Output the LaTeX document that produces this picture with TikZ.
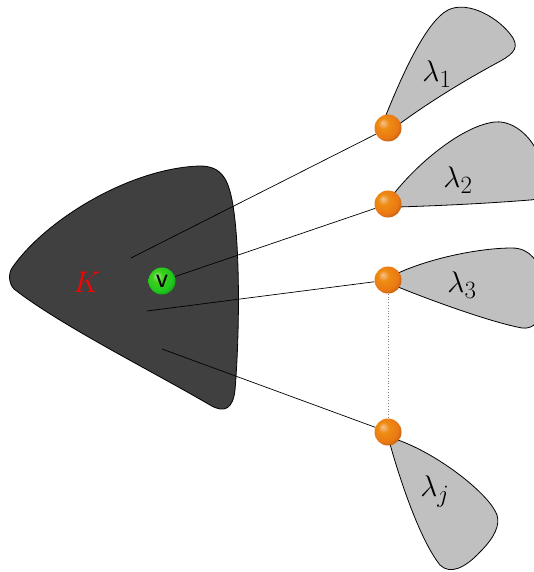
\documentclass[tikz,border=0pt]{standalone}
\definecolor{kdark}{HTML}{404040}
\definecolor{petal}{HTML}{C0C0C0}
\definecolor{borange}{RGB}{235,120,20}
\definecolor{bgreen}{RGB}{30,200,30}
\pgfdeclareradialshading{oballsh}{\pgfpoint{-10bp}{10bp}}{color(0bp)=(white!55!borange); color(10bp)=(borange!85!yellow); color(24bp)=(borange); color(34bp)=(borange!70!black); color(50bp)=(borange!50!black)}
\pgfdeclareradialshading{gballsh}{\pgfpoint{-10bp}{10bp}}{color(0bp)=(white!55!bgreen); color(10bp)=(bgreen!85!yellow); color(24bp)=(bgreen); color(34bp)=(bgreen!70!black); color(50bp)=(bgreen!50!black)}
\pgfdeclarelayer{background}
\pgfsetlayers{background,main}
\tikzset{
  oball/.style={circle,minimum size=27pt,inner sep=0pt,shading=oballsh},
  gball/.style={circle,minimum size=27pt,inner sep=0pt,shading=gballsh},
  petalshape/.style={draw=black,fill=petal,line width=0.8pt},
  conn/.style={draw=black,line width=0.7pt},
  lab/.style={font=\Huge}
}
\newcommand{\biglab}[1]{\scalebox{1.2}{#1}}
\begin{document}
\begin{tikzpicture}[x=1pt,y=-1pt]
\useasboundingbox (0,0) rectangle (533,572);
% balls and markers
\node[oball] (b1) at (388,128) {};
\node[oball] (b2) at (388,204) {};
\node[oball] (b3) at (388,280) {};
\node[oball] (b4) at (388,432) {};
\node[gball,font=\Huge] (g) at (162,281) {\scalebox{1.15}{\sffamily v}};
\coordinate (s1) at (131,258);
\coordinate (s3) at (147,311);
\coordinate (s4) at (162,349);
\begin{pgfonlayer}{background}
% K body
\fill[kdark,draw=black,line width=0.8pt] (12,268) .. controls (45,220) and (130,168) .. (200,166)
  .. controls (222,166) and (228,180) .. (232,200)
  .. controls (240,240) and (240,330) .. (235,390)
  .. controls (233,408) and (225,414) .. (210,405)
  .. controls (150,370) and (60,325) .. (14,289)
  .. controls (9,284) and (8,274) .. (12,268) -- cycle;
% petals
\path[petalshape] (384,120) .. controls (400,80) and (425,22) .. (448,10)
  .. controls (468,0) and (500,18) .. (513,38)
  .. controls (520,50) and (510,56) .. (495,64)
  .. controls (460,83) and (425,105) .. (398,125) -- cycle;
\path[petalshape] (392,196) .. controls (420,160) and (465,125) .. (495,122)
  .. controls (515,120) and (535,140) .. (540,160)
  .. controls (550,180) and (545,200) .. (530,200)
  .. controls (480,204) and (430,206) .. (398,207) -- cycle;
\path[petalshape] (396,274) .. controls (430,258) and (480,248) .. (512,248)
  .. controls (530,248) and (540,262) .. (542,280)
  .. controls (545,310) and (540,330) .. (522,328)
  .. controls (490,322) and (430,300) .. (398,287) -- cycle;
\path[petalshape] (390,444) .. controls (400,480) and (420,540) .. (440,565)
  .. controls (450,575) and (465,568) .. (480,552)
  .. controls (495,537) and (500,525) .. (497,515)
  .. controls (490,495) and (440,455) .. (398,440) -- cycle;
% connectors
\draw[conn] (s1) -- (b1);
\draw[conn] (g) -- (b2);
\draw[conn] (s3) -- (b3);
\draw[conn] (s4) -- (b4);
\draw[gray,dotted,line width=0.8pt] (b3) -- (b4);
\end{pgfonlayer}
% labels
\node[lab,text=red] (K) at (87,282) {\biglab{$K$}};
\node[lab] (l1) at (437,74) {\biglab{$\lambda_1$}};
\node[lab] (l2) at (458,180) {\biglab{$\lambda_2$}};
\node[lab] (l3) at (462,285) {\biglab{$\lambda_3$}};
\node[lab] (lj) at (435,492) {\biglab{$\lambda_j$}};
\end{tikzpicture}
\end{document}
